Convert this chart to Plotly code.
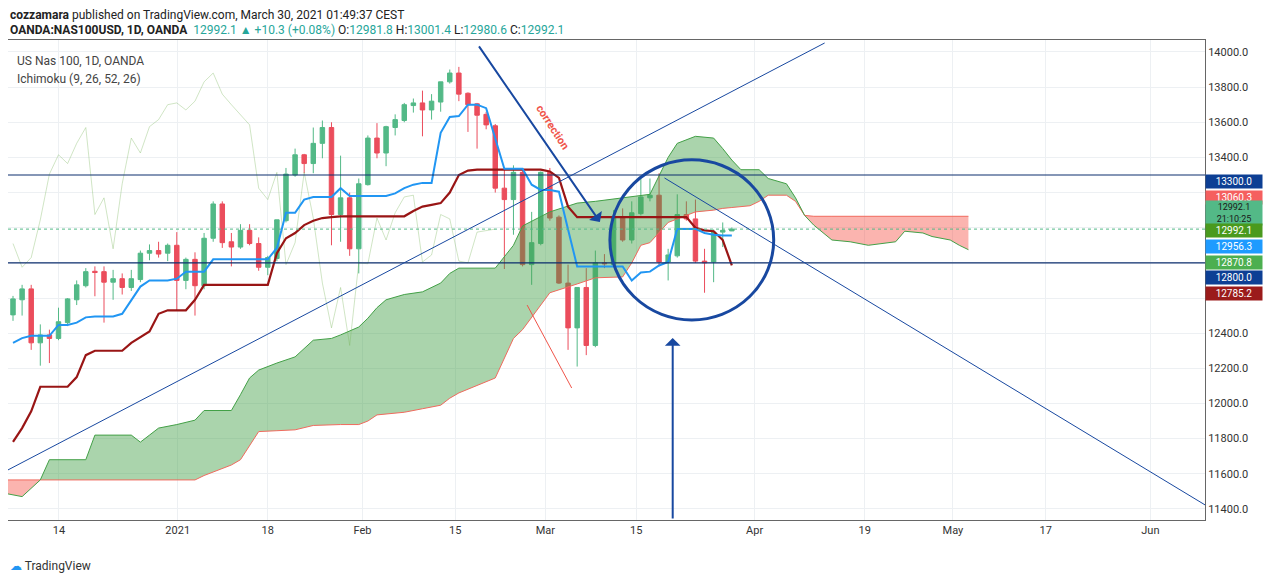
import plotly.graph_objects as go

# velas diarias (indice de barra 0..79)
opens = [12504,12590,12652,12345,12390,12370,12460,12590,12670,12752,12750,12690,12710,12660,12705,12855,12870,12855,12900,12700,
         12820,12670,12940,13135,12920,12890,12985,12910,12775,12825,13040,13300,13415,13365,13480,13570,13075,13170,12880,13245,
         13510,13425,13570,13610,13695,13710,13670,13715,13830,13880,13765,13705,13645,13580,13225,13160,13315,12790,12910,13315,
         13060,12685,12430,12660,12330,12800,12790,13055,12930,13080,13170,13185,12805,12840,13075,13050,12810,12805,12975,12981.8]
highs = [12612,12675,12675,12450,12420,12545,12600,12700,12770,12780,12780,12760,12740,12760,12870,12905,12920,12910,12975,12830,
         12860,12970,13150,13150,12970,13020,13020,12945,12840,13045,13340,13450,13420,13570,13610,13600,13410,13200,13280,13525,
         13595,13580,13645,13710,13735,13780,13760,13830,13900,13915,13770,13710,13660,13590,13345,13355,13330,13090,13320,13340,
         13070,12790,12660,12770,12870,12850,13100,13110,13150,13280,13280,13310,12880,13190,13150,13160,12880,12990,13030,13001.4]
lows = [12470,12500,12305,12215,12230,12360,12440,12560,12660,12610,12460,12590,12620,12640,12690,12815,12830,12810,12530,12650,
        12500,12650,12920,12885,12780,12880,12900,12755,12730,12810,13030,13290,13310,13310,13395,12900,12920,12840,12740,13240,
        13395,13350,13525,13600,13655,13520,13615,13660,13820,13720,13545,13450,13560,13200,12765,12960,12780,12675,12900,13040,
        12680,12305,12210,12275,12320,12770,12780,12920,12910,13070,13150,12780,12700,12830,13040,12800,12630,12690,12890,12980.6]
closes = [12595,12652,12345,12390,12370,12465,12595,12675,12750,12745,12690,12710,12660,12710,12855,12870,12850,12900,12700,12820,
          12670,12940,13135,12915,12890,12985,12910,12775,12830,13045,13305,13415,13365,13480,13570,13075,13170,12880,13250,13510,
          13425,13575,13615,13700,13710,13670,13720,13830,13880,13760,13700,13640,13585,13225,13160,13315,12790,12915,13315,13055,
          12685,12430,12660,12330,12800,12795,13055,12930,13085,13175,13185,12805,12845,13075,13050,12810,12800,12975,12985,12992.1]
bars = list(range(len(closes)))

tenkan = [12345,12372,12385,12385,12385,12447,12447,12460,12490,12495,12495,12495,12510,12590,12665,12700,12700,12700,12710,12750,
          12750,12750,12820,12820,12820,12820,12820,12820,12820,12885,13085,13085,13160,13175,13175,13175,13225,13180,13180,13180,
          13180,13180,13195,13225,13245,13255,13255,13540,13630,13635,13700,13700,13680,13500,13335,13335,13335,13245,13215,13215,
          13205,12990,12780,12780,12780,12780,12780,12780,12700,12745,12750,12785,12805,12993,12993,12993,12970,12960,12956.3,12956.3]
kijun = [11781,11860,11955,12095,12095,12095,12095,12150,12275,12300,12300,12300,12300,12345,12380,12410,12510,12530,12530,12530,
         12590,12675,12675,12675,12675,12675,12675,12675,12675,12855,12940,12970,13015,13040,13055,13060,13065,13065,13065,13065,
         13065,13065,13065,13065,13095,13120,13130,13140,13200,13300,13325,13330,13330,13330,13330,13330,13330,13330,13330,13320,
         13283,13120,13060.3,13060.3,13060.3,13060.3,13060.3,13060.3,13060.3,13060.3,13060.3,13060.3,13060.3,13060.3,13060.3,13000,12985,12980,12930,12785.2]

# nube (senkou A / B) desplazada 26 barras
cloud_x = [-1,1,3,4,8,9,13,14,15,16,18,20,21,24,25,26,27,29,31,33,35,36,38,39,40,41,43,45,47,48,49,53,55,56,59,62,64,67,68,69,70,
           72,73,75,77,78,79,80,81,82,83,85,86,87,88,90,92,94,97,98,100,101,103,104,105]
span_a = [11490,11470,11565,11680,11680,11820,11820,11780,11820,11860,11880,11905,11960,11960,12050,12145,12190,12230,12265,12360,
          12370,12390,12435,12485,12545,12590,12620,12635,12685,12740,12770,12770,12900,13010,13090,13140,13150,13170,13175,13180,
          13190,13400,13480,13520,13510,13450,13385,13330,13330,13330,13280,13250,13170,13070,13015,12930,12920,12900,12920,12980,
          12970,12950,12930,12900,12875]
span_b = [11565,11565,11565,11565,11565,11565,11565,11565,11565,11565,11565,11565,11590,11650,11680,11760,11840,11845,11850,11875,
          11880,11880,11880,11900,11935,11940,11950,11970,11990,12030,12060,12145,12370,12420,12630,12680,12715,12720,12800,12900,
          12915,13030,13050,13090,13100,13110,13115,13120,13125,13150,13185,13185,13150,13070,13065,13065,13065,13065,13065,13065,
          13065,13065,13065,13065,13065]

tick_vals = [5.05, 18.1, 28.0, 38.4, 48.6, 58.5, 68.5, 81.5, 93.6, 103.3, 113.5, 125.0]
tick_text = ["14", "2021", "18", "Feb", "15", "Mar", "15", "Apr", "19", "May", "17", "Jun"]
price_ticks = list(range(11400, 14001, 200))
hidden_ticks = [12600, 12800, 13000, 13200]  # tapados por las etiquetas de precio

UP, DOWN = "#53b987", "#eb4d5c"
NAVY = "#1848a0"

fig = go.Figure()

# nube: tramos rojo / verde / rojo segun cruces
def seg(lo, hi):
    ix = [i for i, x in enumerate(cloud_x) if lo <= x <= hi]
    return [cloud_x[i] for i in ix], [span_a[i] for i in ix], [span_b[i] for i in ix]

for lo, hi, fillc in [(-1, 3, "rgba(244,67,54,0.4)"), (3, 87, "rgba(67,160,71,0.45)"), (87, 105, "rgba(244,67,54,0.4)")]:
    xs, a, b = seg(lo, hi)
    fig.add_scatter(x=xs, y=b, mode="lines", line=dict(color="#f06a5e", width=1), hoverinfo="skip")
    fig.add_scatter(x=xs, y=a, mode="lines", line=dict(color="#43a047", width=1), fill="tonexty",
                    fillcolor=fillc, hoverinfo="skip")

# lagging span
fig.add_scatter(x=[b - 26 for b in bars[26:]], y=closes[26:], mode="lines",
                line=dict(color="rgba(120,180,90,0.35)", width=1), hoverinfo="skip")
fig.add_scatter(x=bars, y=kijun, mode="lines", line=dict(color="#991515", width=2.2), hoverinfo="skip")
fig.add_scatter(x=bars, y=tenkan, mode="lines", line=dict(color="#2196f3", width=2), hoverinfo="skip")

fig.add_candlestick(x=bars, open=opens, high=highs, low=lows, close=closes,
                    increasing=dict(line=dict(color=UP, width=1), fillcolor=UP),
                    decreasing=dict(line=dict(color=DOWN, width=1), fillcolor=DOWN),
                    whiskerwidth=0)

# dibujos
for lvl in [13300, 12800]:
    fig.add_hline(y=lvl, line=dict(color="#0d2f6e", width=1.2))
fig.add_hline(y=12992.1, line=dict(color="#53b987", width=1, dash="dot"))
fig.add_shape(type="line", x0=-0.55, y0=11622, x1=89.2, y1=14051, line=dict(color=NAVY, width=1))
fig.add_shape(type="line", x0=71.6, y0=13283, x1=131, y1=11423, line=dict(color=NAVY, width=1))
fig.add_shape(type="line", x0=56.5, y0=12560, x1=61.4, y1=12088, line=dict(color="#f0554a", width=1))
fig.add_shape(type="circle", x0=65.6, x1=83.6, y0=12475, y1=13386, line=dict(color=NAVY, width=3))
fig.add_annotation(x=64.5, y=13033, ax=51.1, ay=14040, axref="x", ayref="y", text="", showarrow=True,
                   arrowhead=1, arrowsize=1.3, arrowwidth=2, arrowcolor=NAVY)
fig.add_annotation(x=72.5, y=12373, ax=72.5, ay=11337, axref="x", ayref="y", text="", showarrow=True,
                   arrowhead=1, arrowsize=1.3, arrowwidth=2, arrowcolor=NAVY)
fig.add_annotation(x=59.3, y=13570, text="<b>correction</b>", showarrow=False, textangle=57,
                   font=dict(color="#f0554a", size=11))

# textos de cabecera
f = "Roboto"
fig.add_annotation(xref="paper", yref="paper", x=0.0, y=1.071, xanchor="left", showarrow=False,
                   text="<b>cozzamara</b> published on TradingView.com, March 30, 2021 01:49:37 CEST",
                   font=dict(size=12, color="#222", family=f))
fig.add_annotation(xref="paper", yref="paper", x=0.0, y=1.04, xanchor="left", showarrow=False,
                   text="<b>OANDA:NAS100USD, 1D, OANDA</b>  <span style='color:#26a69a'>12992.1 ▲ +10.3 (+0.08%)</span> "
                        "O:<span style='color:#26a69a'>12981.8</span> H:<span style='color:#26a69a'>13001.4</span> "
                        "L:<span style='color:#26a69a'>12980.6</span> C:<span style='color:#26a69a'>12992.1</span>",
                   font=dict(size=12, color="#222", family=f))
fig.add_annotation(xref="paper", yref="paper", x=0.006, y=0.975, xanchor="left", showarrow=False,
                   text="US Nas 100, 1D, OANDA", font=dict(size=12, color="#444", family=f))
fig.add_annotation(xref="paper", yref="paper", x=0.006, y=0.938, xanchor="left", showarrow=False,
                   text="Ichimoku (9, 26, 52, 26)", font=dict(size=12, color="#444", family=f))
fig.add_annotation(xref="paper", yref="paper", x=0.0, y=-0.115, xanchor="left", showarrow=False,
                   text="<span style='color:#2196f3'>☁</span> TradingView", font=dict(size=12, color="#333", family=f))

# etiquetas de precio
labels = [("13300.0", "#0d3f94", "white", 0.7208, 13, 10), ("13060.3", "#f55f5f", "white", 0.6885, 13, 10),
          ("12992.1<br>21:10:25", "#53b987", "#1a1a1a", 0.6396, 24, 9), ("12992.1", "#4a9a1e", "white", 0.6021, 13, 10),
          ("12956.3", "#1e9bff", "white", 0.5698, 13, 10), ("12870.8", "#4caf50", "white", 0.5365, 13, 10),
          ("12800.0", "#0d3f94", "white", 0.5042, 13, 10), ("12785.2", "#9b1b1b", "white", 0.4719, 13, 10)]
for txt, bg, fc, yy, hh, fs in labels:
    fig.add_annotation(xref="paper", yref="paper", x=1.0, y=yy, xanchor="left", showarrow=False, text=txt,
                       bgcolor=bg, font=dict(color=fc, size=fs, family=f), width=56, height=hh, borderpad=0)

fig.update_layout(
    width=1266, height=577, template="plotly_white", showlegend=False,
    margin=dict(l=0, r=69, t=32, b=65), plot_bgcolor="white", paper_bgcolor="white",
    font=dict(family=f, size=11, color="#333"),
    xaxis=dict(range=[-0.55, 131], tickvals=tick_vals, ticktext=tick_text, rangeslider=dict(visible=False),
               showgrid=True, gridcolor="#edf0f3", zeroline=False, showline=True, linecolor="#666",
               mirror=True, ticks="", tickfont=dict(size=11)),
    yaxis=dict(range=[11337, 14068], side="right", tickvals=price_ticks,
               ticktext=["" if v in hidden_ticks else f"{v:.1f}" for v in price_ticks], showgrid=True,
               gridcolor="#edf0f3", zeroline=False, showline=True, linecolor="#666", mirror=True,
               tickfont=dict(size=11)),
)
fig.write_html("out.html")
